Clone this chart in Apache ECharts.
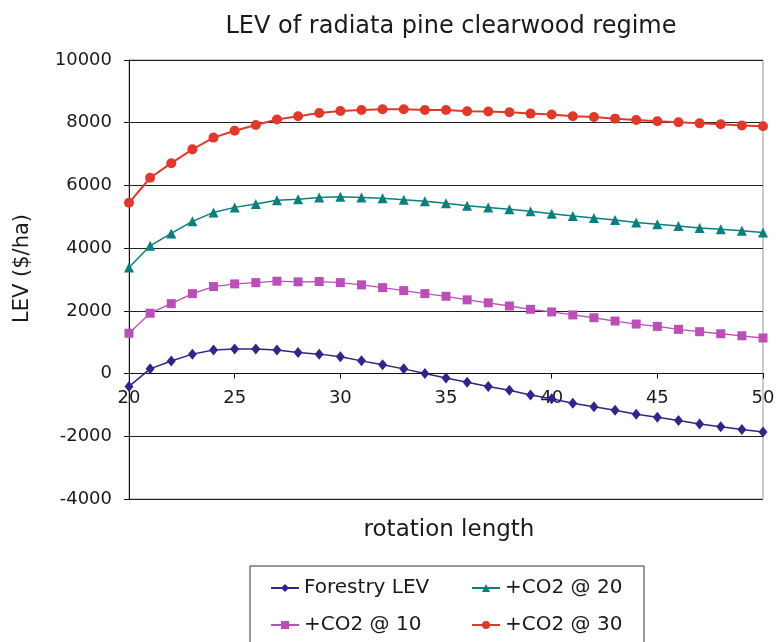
<!DOCTYPE html>
<html>
<head>
<meta charset="utf-8">
<title>LEV of radiata pine clearwood regime</title>
<script src="https://cdn.jsdelivr.net/npm/echarts@6/dist/echarts.min.js"></script>
<style>
  html, body { margin: 0; padding: 0; background: #fff; }
  #chart { width: 776px; height: 642px; }
</style>
</head>
<body>
<div id="chart"></div>
<script>
// Rotation length (years)
const years = [20, 21, 22, 23, 24, 25, 26, 27, 28, 29, 30, 31, 32, 33, 34, 35,
               36, 37, 38, 39, 40, 41, 42, 43, 44, 45, 46, 47, 48, 49, 50];

// Land expectation value ($/ha) for each scenario
const forestryLEV = [-410, 150, 400, 620, 750, 780, 780, 750, 675, 620, 535, 405, 280, 150, 0,
                     -140, -275, -415, -530, -680, -800, -945, -1055, -1170, -1300, -1395,
                     -1500, -1610, -1695, -1780, -1865];
const co2At10 = [1285, 1925, 2230, 2550, 2775, 2860, 2900, 2945, 2925, 2935, 2900, 2830, 2740,
                 2645, 2550, 2465, 2350, 2255, 2155, 2050, 1965, 1870, 1780, 1675, 1580, 1505,
                 1410, 1335, 1270, 1205, 1135];
const co2At20 = [3380, 4075, 4470, 4855, 5140, 5300, 5410, 5525, 5560, 5615, 5635, 5615, 5590,
                 5540, 5495, 5430, 5355, 5300, 5240, 5175, 5100, 5025, 4965, 4900, 4820, 4760,
                 4705, 4645, 4600, 4555, 4495];
const co2At30 = [5445, 6245, 6710, 7150, 7525, 7745, 7925, 8100, 8205, 8310, 8375, 8405, 8430,
                 8430, 8405, 8405, 8365, 8355, 8335, 8290, 8260, 8205, 8180, 8130, 8085, 8045,
                 8015, 7980, 7950, 7915, 7885];

const seriesNames = ['Forestry LEV', '+CO2 @ 10', '+CO2 @ 20', '+CO2 @ 30'];
// Legend reads across rows: Forestry LEV, +CO2 @ 20 / +CO2 @ 10, +CO2 @ 30
const legendLeftColumn = ['Forestry LEV', '+CO2 @ 10'];
const legendRightColumn = ['+CO2 @ 20', '+CO2 @ 30'];

const yMin = -4000;
const yMax = 10000;
const yStep = 2000;

const FONT = 'DejaVu Sans';
const INK = '#1a1a1a';

function pairs(values) {
  return years.map((y, i) => [y, values[i]]);
}

function lineSeries(name, values, color, symbol, size, width) {
  return {
    name: name,
    type: 'line',
    data: pairs(values),
    symbol: symbol,
    symbolSize: size,
    showSymbol: true,
    lineStyle: { color: color, width: width },
    itemStyle: { color: color },
    emphasis: { disabled: true },
    animation: false
  };
}

// Fixed text widths keep the two legend columns aligned
function legendEntry(name) {
  const w = legendLeftColumn.includes(name) ? 152 : 139;
  return { name: name, textStyle: { width: w } };
}

const chart = echarts.init(document.getElementById('chart'), null, { renderer: 'canvas' });

chart.setOption({
  backgroundColor: '#fff',
  animation: false,
  title: {
    text: 'LEV of radiata pine clearwood regime',
    left: 446,
    top: 10,
    textAlign: 'center',
    textStyle: { fontFamily: FONT, fontSize: 24, fontWeight: 'normal', color: INK }
  },
  grid: {
    left: 129, right: 13, top: 60, bottom: 143,
    outerBoundsMode: 'none',
    containLabel: false,
    show: true, borderColor: '#999', borderWidth: 1, backgroundColor: '#fff'
  },
  legend: {
    data: ['Forestry LEV', '+CO2 @ 20', '+CO2 @ 10', '+CO2 @ 30'].map(legendEntry),
    orient: 'horizontal',
    left: 250, top: 566,
    width: 380,
    padding: [11, 0, 30, 20],
    itemGap: 15,
    itemWidth: 28, itemHeight: 10,
    borderColor: '#333', borderWidth: 1,
    backgroundColor: '#fff',
    textStyle: { fontFamily: FONT, fontSize: 20, color: INK, lineHeight: 22 }
  },
  xAxis: {
    type: 'value',
    position: 'bottom',
    min: 20, max: 50, interval: 5,
    name: 'rotation length',
    nameLocation: 'middle',
    nameGap: 145,
    nameTextStyle: { fontFamily: FONT, fontSize: 23, color: INK, padding: [0, 0, 0, 6] },
    axisLine: { onZero: false, lineStyle: { color: '#111', width: 1 } },
    axisTick: { show: true, length: 5, inside: false, lineStyle: { color: '#111' } },
    axisLabel: { fontFamily: FONT, fontSize: 18, color: INK, margin: 16 },
    splitLine: { show: false }
  },
  yAxis: {
    type: 'value',
    min: yMin, max: yMax, interval: yStep,
    name: 'LEV ($/ha)',
    nameLocation: 'middle',
    nameRotate: 90,
    nameGap: 96,
    nameTextStyle: { fontFamily: FONT, fontSize: 21, color: INK, padding: [0, 0, 0, 22] },
    axisLine: { show: true, lineStyle: { color: '#111', width: 1 } },
    axisTick: { show: true, length: 5, lineStyle: { color: '#111' } },
    axisLabel: {
      fontFamily: FONT, fontSize: 18, color: INK, margin: 17,
      formatter: (v) => String(v)
    },
    splitLine: { show: true, lineStyle: { color: '#222', width: 1 } }
  },
  series: [
    lineSeries(seriesNames[0], forestryLEV, '#35228a', 'diamond', [9, 11], 1.5),
    lineSeries(seriesNames[1], co2At10, '#bb4fb8', 'rect', 9, 1.3),
    lineSeries(seriesNames[2], co2At20, '#0b7f7e', 'triangle', 10, 1.5),
    lineSeries(seriesNames[3], co2At30, '#e0392b', 'circle', 10, 2)
  ]
});

// Move the x axis (line, ticks, labels and name) up so it crosses the y axis at zero
const zeroY = chart.convertToPixel({ yAxisIndex: 0 }, 0);
const floorY = chart.convertToPixel({ yAxisIndex: 0 }, yMin);
chart.setOption({ xAxis: { offset: zeroY - floorY } });
</script>
</body>
</html>
